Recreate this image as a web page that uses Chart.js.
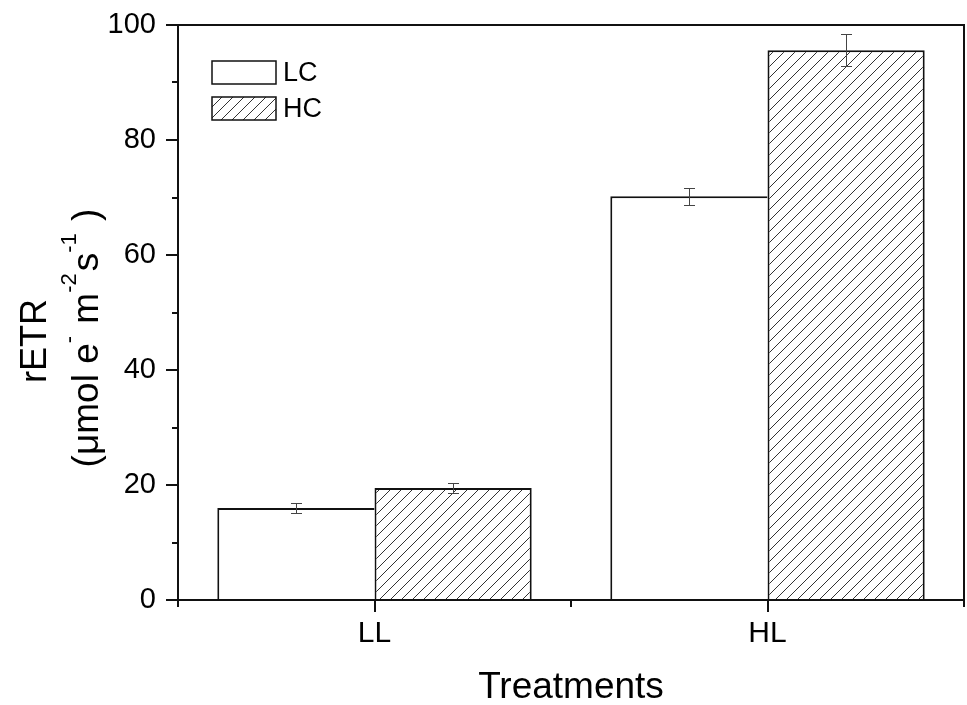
<!DOCTYPE html>
<html>
<head>
<meta charset="utf-8">
<script src="https://cdn.jsdelivr.net/npm/chart.js@4.4.0/dist/chart.umd.min.js"></script>
<style>
  html, body { margin: 0; padding: 0; background: #fff; }
  #wrap { width: 967px; height: 705px; }
</style>
</head>
<body>
<div id="wrap"><canvas id="chart" width="967" height="705"></canvas></div>
<script>
// values
var categories = ['LL', 'HL'];
var seriesNames = ['LC', 'HC'];
var lcValues = [16.0, 70.2];
var hcValues = [19.5, 95.6];
var lcErrors = [0.9, 1.5];
var hcErrors = [0.9, 2.8];
var yTicks = [0, 20, 40, 60, 80, 100];
var yMinorTicks = [10, 30, 50, 70, 90];

var FONT = "'Liberation Sans', Arial, sans-serif";

// diagonal hatch used for the HC bars
function makeHatch() {
    var s = 11;
    var c = document.createElement('canvas');
    c.width = s; c.height = s;
    var g = c.getContext('2d');
    g.fillStyle = '#fff';
    g.fillRect(0, 0, s, s);
    g.strokeStyle = '#333';
    g.lineWidth = 1;
    g.beginPath();
    g.moveTo(0, s); g.lineTo(s, 0);
    g.moveTo(-1, 1); g.lineTo(1, -1);
    g.moveTo(s - 1, s + 1); g.lineTo(s + 1, s - 1);
    g.stroke();
    return document.getElementById('chart').getContext('2d').createPattern(c, 'repeat');
}
var hatch = makeHatch();

var errorBars = {
    id: 'errorBars',
    afterDatasetsDraw: function(chart) {
        var ctx = chart.ctx;
        var y = chart.scales.y;
        var errs = [lcErrors, hcErrors];
        ctx.save();
        ctx.strokeStyle = '#444';
        ctx.lineWidth = 1;
        chart.data.datasets.forEach(function(ds, di) {
            var meta = chart.getDatasetMeta(di);
            meta.data.forEach(function(bar, i) {
                var v = ds.data[i], e = errs[di][i];
                var x = Math.round(bar.x) + 0.5;
                var yt = Math.round(y.getPixelForValue(v + e)) + 0.5;
                var yb = Math.round(y.getPixelForValue(v - e)) + 0.5;
                ctx.beginPath();
                ctx.moveTo(x, yt); ctx.lineTo(x, yb);
                ctx.moveTo(x - 5.5, yt); ctx.lineTo(x + 5.5, yt);
                ctx.moveTo(x - 5.5, yb); ctx.lineTo(x + 5.5, yb);
                ctx.stroke();
            });
        });
        ctx.restore();
    }
};

var frame = {
    id: 'frame',
    afterDraw: function(chart) {
        var ctx = chart.ctx;
        var a = chart.chartArea;
        var xs = chart.scales.x, ys = chart.scales.y;
        ctx.save();
        ctx.strokeStyle = '#111';
        ctx.lineWidth = 2;
        ctx.beginPath();
        ctx.rect(a.left, a.top, a.right - a.left, a.bottom - a.top);
        ctx.stroke();

        // y ticks
        ctx.beginPath();
        yTicks.forEach(function(v) {
            var p = Math.round(ys.getPixelForValue(v));
            ctx.moveTo(a.left - 12, p); ctx.lineTo(a.left, p);
        });
        yMinorTicks.forEach(function(v) {
            var p = Math.round(ys.getPixelForValue(v));
            ctx.moveTo(a.left - 6, p); ctx.lineTo(a.left, p);
        });
        // x ticks: centres and category boundaries
        categories.forEach(function(c, i) {
            var p = Math.round(xs.getPixelForValue(i));
            ctx.moveTo(p, a.bottom); ctx.lineTo(p, a.bottom + 12);
        });
        for (var i = 0; i <= categories.length; i++) {
            var p = Math.round(xs.getPixelForValue(i - 0.5));
            ctx.moveTo(p, a.bottom); ctx.lineTo(p, a.bottom + 7);
        }
        ctx.stroke();

        // x title
        ctx.fillStyle = '#000';
        ctx.font = '37px ' + FONT;
        ctx.textAlign = 'center';
        ctx.textBaseline = 'alphabetic';
        ctx.fillText('Treatments', (a.left + a.right) / 2, 698);

        // y title, rotated, with superscripts
        ctx.translate(0, 341);
        ctx.rotate(-Math.PI / 2);
        ctx.font = '36px ' + FONT;
        ctx.fillText('rETR', 0, 46);
        var parts = [
            ['(\u03bcmol e', 0], ['-', 1], [' m', 0], ['-2', 1], ['s', 0], ['-1', 1], [' )', 0]
        ];
        var big = '37px ' + FONT, small = '22px ' + FONT;
        var total = 0;
        parts.forEach(function(p) {
            ctx.font = p[1] ? small : big;
            total += ctx.measureText(p[0]).width;
        });
        var x = -total / 2;
        ctx.textAlign = 'left';
        parts.forEach(function(p) {
            ctx.font = p[1] ? small : big;
            ctx.fillText(p[0], x, p[1] ? 76 : 98);
            x += ctx.measureText(p[0]).width + (p[1] ? 2 : 0);
        });
        ctx.restore();

        // legend inside the plot
        ctx.save();
        chart.data.datasets.forEach(function(ds, i) {
            var bx = 212, by = 61 + i * 36, bw = 64, bh = 23;
            ctx.fillStyle = ds.backgroundColor;
            ctx.fillRect(bx, by, bw, bh);
            ctx.strokeStyle = '#111';
            ctx.lineWidth = 1.5;
            ctx.strokeRect(bx, by, bw, bh);
            ctx.fillStyle = '#000';
            ctx.font = '27px ' + FONT;
            ctx.textBaseline = 'middle';
            ctx.textAlign = 'left';
            ctx.fillText(ds.label, bx + bw + 7, by + bh / 2 + 1);
        });
        ctx.restore();
    }
};

new Chart(document.getElementById('chart'), {
    type: 'bar',
    data: {
        labels: categories,
        datasets: [
            {
                label: seriesNames[0],
                data: lcValues,
                backgroundColor: '#fff',
                borderColor: '#111',
                borderWidth: { left: 2, top: 2, right: 0, bottom: 0 },
                borderSkipped: false
            },
            {
                label: seriesNames[1],
                data: hcValues,
                backgroundColor: hatch,
                borderColor: '#111',
                borderWidth: { left: 2, top: 2, right: 2, bottom: 0 },
                borderSkipped: false
            }
        ]
    },
    options: {
        responsive: false,
        animation: false,
        devicePixelRatio: 1,
        layout: { padding: { left: 0, top: 25, right: 3, bottom: 0 } },
        categoryPercentage: 0.8,
        barPercentage: 1.0,
        plugins: {
            legend: { display: false },
            tooltip: { enabled: false }
        },
        scales: {
            x: {
                offset: true,
                grid: { display: false },
                border: { display: false },
                ticks: {
                    color: '#000',
                    font: { family: FONT, size: 30 },
                    padding: 8,
                    maxRotation: 0
                },
                afterFit: function(s) { s.height = 105; s.paddingLeft = 0; s.paddingRight = 0; }
            },
            y: {
                min: 0,
                max: 100,
                grid: { display: false },
                border: { display: false },
                ticks: {
                    stepSize: 20,
                    color: '#000',
                    font: { family: FONT, size: 29 },
                    padding: 14
                },
                afterFit: function(s) { s.width = 178; s.paddingTop = 0; s.paddingBottom = 0; }
            }
        }
    },
    plugins: [errorBars, frame]
});
</script>
</body>
</html>
